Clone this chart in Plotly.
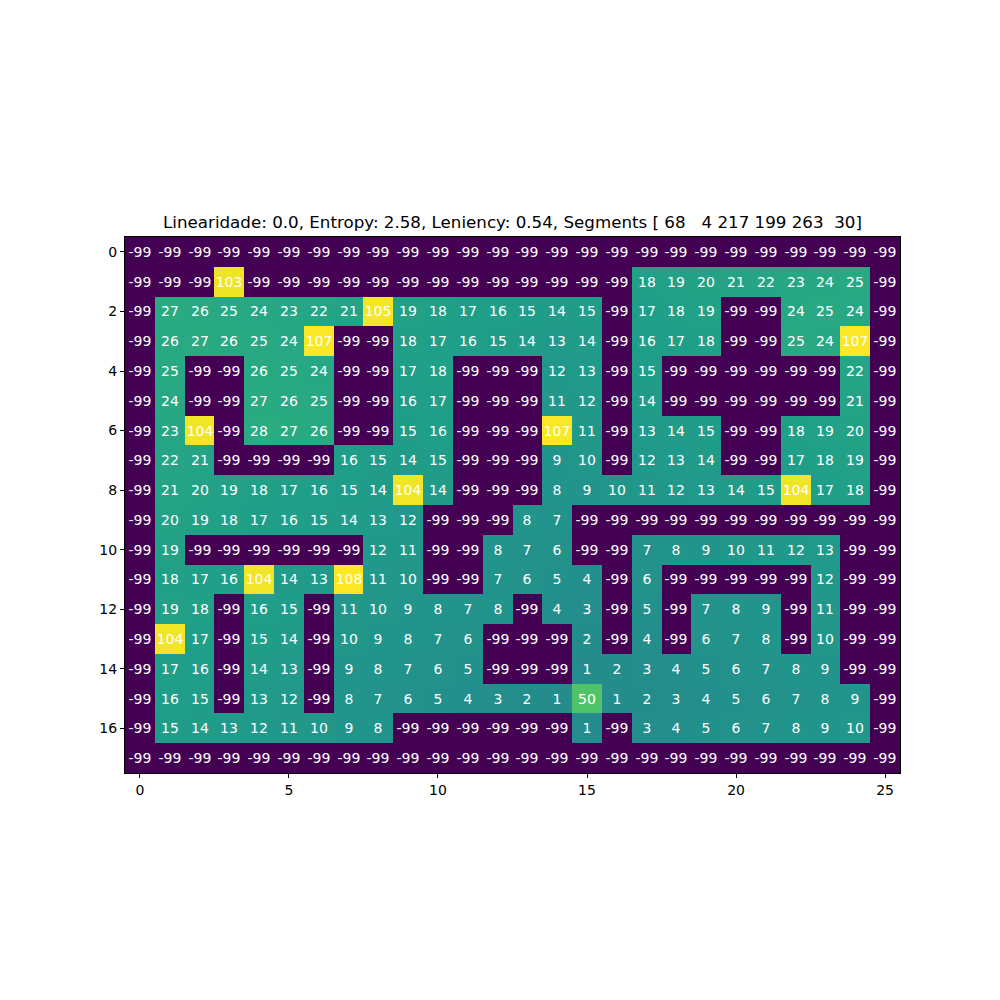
import plotly.graph_objects as go

N = -99
rows = [
    [N]*26,
    [N,N,N,103,N,N,N,N,N,N,N,N,N,N,N,N,N,18,19,20,21,22,23,24,25,N],
    [N,27,26,25,24,23,22,21,105,19,18,17,16,15,14,15,N,17,18,19,N,N,24,25,24,N],
    [N,26,27,26,25,24,107,N,N,18,17,16,15,14,13,14,N,16,17,18,N,N,25,24,107,N],
    [N,25,N,N,26,25,24,N,N,17,18,N,N,N,12,13,N,15,N,N,N,N,N,N,22,N],
    [N,24,N,N,27,26,25,N,N,16,17,N,N,N,11,12,N,14,N,N,N,N,N,N,21,N],
    [N,23,104,N,28,27,26,N,N,15,16,N,N,N,107,11,N,13,14,15,N,N,18,19,20,N],
    [N,22,21,N,N,N,N,16,15,14,15,N,N,N,9,10,N,12,13,14,N,N,17,18,19,N],
    [N,21,20,19,18,17,16,15,14,104,14,N,N,N,8,9,10,11,12,13,14,15,104,17,18,N],
    [N,20,19,18,17,16,15,14,13,12,N,N,N,8,7,N,N,N,N,N,N,N,N,N,N,N],
    [N,19,N,N,N,N,N,N,12,11,N,N,8,7,6,N,N,7,8,9,10,11,12,13,N,N],
    [N,18,17,16,104,14,13,108,11,10,N,N,7,6,5,4,N,6,N,N,N,N,N,12,N,N],
    [N,19,18,N,16,15,N,11,10,9,8,7,8,N,4,3,N,5,N,7,8,9,N,11,N,N],
    [N,104,17,N,15,14,N,10,9,8,7,6,N,N,N,2,N,4,N,6,7,8,N,10,N,N],
    [N,17,16,N,14,13,N,9,8,7,6,5,N,N,N,1,2,3,4,5,6,7,8,9,N,N],
    [N,16,15,N,13,12,N,8,7,6,5,4,3,2,1,50,1,2,3,4,5,6,7,8,9,N],
    [N,15,14,13,12,11,10,9,8,N,N,N,N,N,N,1,N,3,4,5,6,7,8,9,10,N],
    [N]*26,
]
x_ticks = [0, 5, 10, 15, 20, 25]
y_ticks = [0, 2, 4, 6, 8, 10, 12, 14, 16]
title = "Linearidade: 0.0, Entropy: 2.58, Leniency: 0.54, Segments [ 68   4 217 199 263  30]"

labels = [[str(v) for v in r] for r in rows]

fig = go.Figure(go.Heatmap(
    z=rows,
    x=list(range(26)),
    y=list(range(18)),
    text=labels,
    texttemplate="%{text}",
    colorscale="Viridis",
    zmin=min(min(r) for r in rows),
    zmax=max(max(r) for r in rows),
    showscale=False,
    textfont=dict(color="white", size=14, family="DejaVu Sans"),
    xgap=0, ygap=0,
    hoverinfo="skip",
))

fig.update_layout(
    width=1000, height=1000,
    margin=dict(l=125, r=100, t=237, b=227, pad=0),
    paper_bgcolor="white", plot_bgcolor="white",
    font=dict(family="DejaVu Sans", size=14, color="black"),
    title=dict(text=title.replace(" ", "\u00a0"), x=0.5125, xanchor="center",
               y=1 - 222/1000, yanchor="middle",
               font=dict(size=16.7, family="DejaVu Sans", color="black")),
)
fig.update_xaxes(range=[-0.5, 25.5], tickvals=x_ticks, ticktext=[str(v) for v in x_ticks],
                 ticks="outside", ticklen=4, tickcolor="black", tickwidth=1,
                 showline=True, linecolor="black", linewidth=1, mirror=True,
                 showgrid=False, zeroline=False, tickfont=dict(size=14))
fig.update_yaxes(range=[17.5, -0.5], tickvals=y_ticks, ticktext=[str(v) for v in y_ticks],
                 ticks="outside", ticklen=4, tickcolor="black", tickwidth=1,
                 showline=True, linecolor="black", linewidth=1, mirror=True,
                 showgrid=False, zeroline=False, tickfont=dict(size=14))

fig.write_html("out.html")
